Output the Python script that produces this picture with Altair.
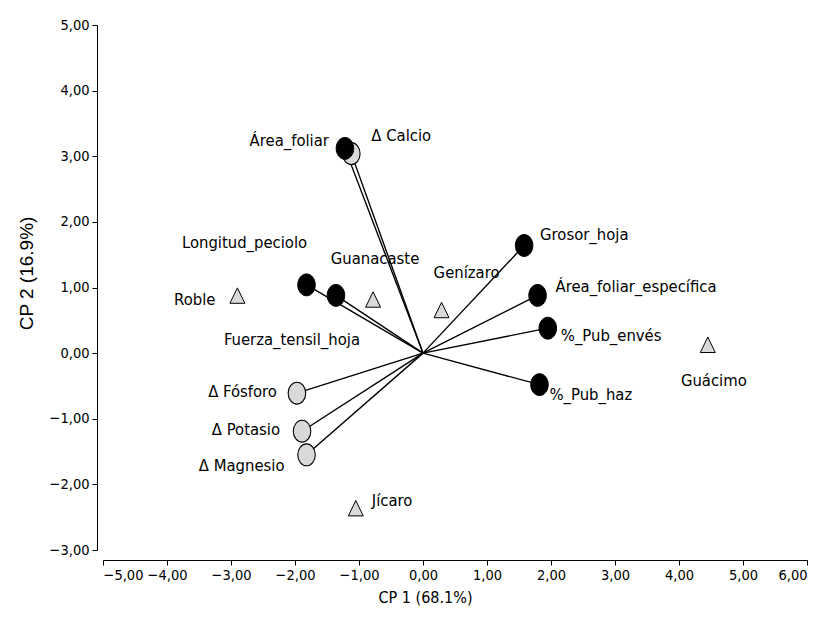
import altair as alt
import pandas as pd

# Variables (black circles)
var_names = ["Área_foliar", "Longitud_peciolo", "Fuerza_tensil_hoja", "Grosor_hoja",
             "Área_foliar_específica", "%_Pub_envés", "%_Pub_haz"]
var_x = [-1.22, -1.82, -1.36, 1.58, 1.79, 1.95, 1.82]
var_y = [3.12, 1.04, 0.88, 1.64, 0.88, 0.38, -0.48]

# Nutrient changes (gray circles)
nut_names = ["Δ Calcio", "Δ Fósforo", "Δ Potasio", "Δ Magnesio"]
nut_x = [-1.12, -1.97, -1.89, -1.82]
nut_y = [3.04, -0.61, -1.19, -1.55]

# Species (triangles)
sp_names = ["Roble", "Guanacaste", "Genízaro", "Guácimo", "Jícaro"]
sp_x = [-2.9, -0.78, 0.29, 4.45, -1.05]
sp_y = [0.86, 0.80, 0.64, 0.11, -2.38]

# label offsets (pixels) and alignment
var_dx = [-16, -62, -44, 16, 18, 13, 10]
var_dy = [-7, -42, 45, -11, -8, 8, 10]
var_al = ["right", "center", "center", "left", "left", "left", "left"]
nut_dx = [20, -20, -22, -22]
nut_dy = [-18, -1, -1, 11]
nut_al = ["left", "right", "right", "right"]
sp_dx = [-22, 2, 25, 6, 16]
sp_dy = [3, -42, -38, 35, -8]
sp_al = ["right", "center", "center", "center", "left"]

x_ticks = list(range(-5, 7))
y_ticks = list(range(-3, 6))

FONT = "Liberation Sans Narrow, Arial Narrow, DejaVu Sans Condensed, sans-serif"

vars_df = pd.DataFrame({"name": var_names, "x": var_x, "y": var_y, "x0": 0.0, "y0": 0.0})
nut_df = pd.DataFrame({"name": nut_names, "x": nut_x, "y": nut_y, "x0": 0.0, "y0": 0.0})
sp_df = pd.DataFrame({"name": sp_names, "x": sp_x, "y": sp_y})

lab_fmt = "replace(format(datum.value, '.2f'), '.', ',')"

xs = alt.Scale(domain=[-5, 6], nice=False, zero=False)
ys = alt.Scale(domain=[-3, 5], nice=False, zero=False)

x_axis = alt.Axis(values=x_ticks, labelExpr=lab_fmt, title="CP 1 (68.1%)",
                  offset=10, grid=False, tickSize=5, labelFontSize=14.5,
                  titleFontSize=16, titleFontWeight="normal", titleFont=FONT,
                  labelFont=FONT, labelPadding=3, titlePadding=8, titleX=322,
                  domainColor="black", tickColor="black",
                  labelColor="black", titleColor="black")
y_axis = alt.Axis(values=y_ticks, labelExpr=lab_fmt, title="CP 2 (16.9%)",
                  offset=6, grid=False, tickSize=5, labelFontSize=14.5,
                  titleFontSize=19, titleFontWeight="normal", titleY=248,
                  titleFont="Liberation Sans, Arial, sans-serif",
                  labelFont=FONT, labelPadding=3, titlePadding=13,
                  domainColor="black", tickColor="black",
                  labelColor="black", titleColor="black")

X = alt.X("x:Q", scale=xs, axis=x_axis)
Y = alt.Y("y:Q", scale=ys, axis=y_axis)

all_vec = pd.concat([nut_df, vars_df])
rules = alt.Chart(all_vec).mark_rule(color="black", strokeWidth=1.4).encode(
    x=alt.X("x0:Q", scale=xs, axis=x_axis), y=alt.Y("y0:Q", scale=ys, axis=y_axis),
    x2="x:Q", y2="y:Q")

ELLIPSE = "M -0.8 0 A 0.8 1 0 1 0 0.8 0 A 0.8 1 0 1 0 -0.8 0 Z"

nut_pts = alt.Chart(nut_df).mark_point(shape=ELLIPSE, size=480, filled=True, fill="#d9d9d9",
                                       stroke="black", strokeWidth=1.1, opacity=1).encode(x=X, y=Y)
var_pts = alt.Chart(vars_df).mark_point(shape=ELLIPSE, size=480, filled=True, fill="black",
                                        stroke="black", strokeWidth=1, opacity=1).encode(x=X, y=Y)
TRI = "M 0 -1 L 0.85 0.75 L -0.85 0.75 Z"
sp_pts = alt.Chart(sp_df).mark_point(shape=TRI, size=310, filled=True, fill="#d9d9d9",
                                     stroke="black", strokeWidth=1, opacity=1).encode(x=X, y=Y)

texts = []
for df, dxs, dys, als in [(vars_df, var_dx, var_dy, var_al), (nut_df, nut_dx, nut_dy, nut_al),
                          (sp_df, sp_dx, sp_dy, sp_al)]:
    for i in range(len(df)):
        texts.append(alt.Chart(df.iloc[[i]]).mark_text(
            align=als[i], baseline="middle", dx=dxs[i], dy=dys[i], font=FONT,
            fontSize=16.5, color="black").encode(x=X, y=Y, text="name:N"))

chart = alt.layer(rules, nut_pts, var_pts, sp_pts, *texts).properties(
    width=704, height=525,
    autosize=alt.AutoSizeParams(type="none"),
    padding={"left": 95, "top": 17, "right": 24, "bottom": 70},
    background="white",
).configure_view(stroke=None)

chart.save("out.html", embed_options={"renderer": "svg", "actions": False})
